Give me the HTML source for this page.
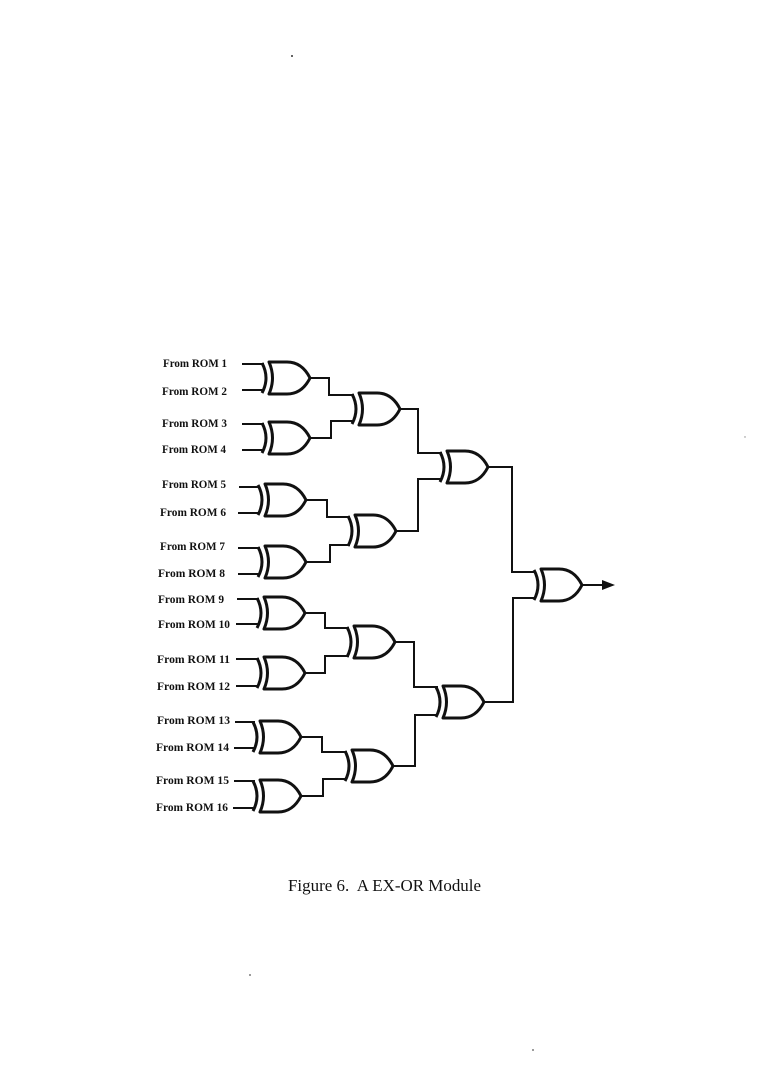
<!DOCTYPE html>
<html><head><meta charset="utf-8"><style>
html,body{margin:0;padding:0;background:#fff;}
svg{display:block;}
.lbl{font-family:"Liberation Serif",serif;font-weight:bold;font-size:11.5px;fill:#111;}
.cap{font-family:"Liberation Serif",serif;font-size:16.5px;fill:#111;}
</style></head><body>
<svg width="760" height="1089" viewBox="0 0 760 1089" xmlns="http://www.w3.org/2000/svg">
<defs>
<g id="x">
<path d="M0,1 Q8,16 0,31" fill="none" stroke="#111" stroke-width="3"/>
<path d="M7,0 Q14,16 7,32 L25,32 C37,32 44,24 48,16 C44,8 37,0 25,0 Z" fill="none" stroke="#111" stroke-width="3" stroke-linejoin="round"/>
</g>
</defs>
<circle cx="292" cy="56" r="1" fill="#333"/>
<circle cx="250" cy="975" r="0.9" fill="#555"/>
<circle cx="533" cy="1050" r="0.9" fill="#555"/>
<circle cx="745" cy="437" r="0.7" fill="#888"/>

<!-- labels -->
<text class="lbl" x="163" y="367" textLength="64" lengthAdjust="spacingAndGlyphs">From ROM 1</text>
<text class="lbl" x="162" y="395" textLength="65" lengthAdjust="spacingAndGlyphs">From ROM 2</text>
<text class="lbl" x="162" y="427" textLength="65" lengthAdjust="spacingAndGlyphs">From ROM 3</text>
<text class="lbl" x="162" y="453" textLength="64" lengthAdjust="spacingAndGlyphs">From ROM 4</text>
<text class="lbl" x="162" y="488" textLength="64" lengthAdjust="spacingAndGlyphs">From ROM 5</text>
<text class="lbl" x="160" y="516" textLength="66" lengthAdjust="spacingAndGlyphs">From ROM 6</text>
<text class="lbl" x="160" y="550" textLength="65" lengthAdjust="spacingAndGlyphs">From ROM 7</text>
<text class="lbl" x="158" y="577" textLength="67" lengthAdjust="spacingAndGlyphs">From ROM 8</text>
<text class="lbl" x="158" y="603" textLength="66" lengthAdjust="spacingAndGlyphs">From ROM 9</text>
<text class="lbl" x="158" y="628" textLength="72" lengthAdjust="spacingAndGlyphs">From ROM 10</text>
<text class="lbl" x="157" y="663" textLength="73" lengthAdjust="spacingAndGlyphs">From ROM 11</text>
<text class="lbl" x="157" y="690" textLength="73" lengthAdjust="spacingAndGlyphs">From ROM 12</text>
<text class="lbl" x="157" y="724" textLength="73" lengthAdjust="spacingAndGlyphs">From ROM 13</text>
<text class="lbl" x="156" y="751" textLength="73" lengthAdjust="spacingAndGlyphs">From ROM 14</text>
<text class="lbl" x="156" y="784" textLength="73" lengthAdjust="spacingAndGlyphs">From ROM 15</text>
<text class="lbl" x="156" y="811" textLength="72" lengthAdjust="spacingAndGlyphs">From ROM 16</text>

<!-- input wires -->
<g stroke="#111" stroke-width="2" fill="none">
<path d="M242,364 H264 M242,390 H264 M242,424 H264 M242,450 H264"/>
<path d="M239,487 H260 M238,513 H260 M238,548 H260 M238,574 H260"/>
<path d="M237,599 H259 M236,624 H259 M236,659 H259 M236,686 H259"/>
<path d="M235,722 H255 M234,748 H255 M234,781 H255 M233,808 H255"/>

<!-- level 1 -> level 2 -->
<path d="M310,378 H329 V395 H354"/>
<path d="M310,438 H331 V421 H354"/>
<path d="M306,500 H327 V517 H350"/>
<path d="M306,562 H330 V545 H350"/>
<path d="M305,613 H325 V628 H349"/>
<path d="M305,673 H325 V656 H349"/>
<path d="M301,737 H322 V752 H347"/>
<path d="M301,796 H323 V779 H347"/>

<!-- level 2 -> level 3 -->
<path d="M400,409 H418 V453 H442"/>
<path d="M396,531 H418 V479 H442"/>
<path d="M395,642 H414 V687 H438"/>
<path d="M393,766 H415 V715 H438"/>

<!-- level 3 -> final -->
<path d="M488,467 H512 V572 H536"/>
<path d="M484,702 H513 V598 H536"/>

<!-- output -->
<path d="M582,585 H604"/>
</g>
<path d="M602,580 L615,585 L602,590 Z" fill="#111"/>

<!-- gates -->
<use href="#x" transform="translate(262,362)"/>
<use href="#x" transform="translate(262,422)"/>
<use href="#x" transform="translate(258,484)"/>
<use href="#x" transform="translate(258,546)"/>
<use href="#x" transform="translate(257,597)"/>
<use href="#x" transform="translate(257,657)"/>
<use href="#x" transform="translate(253,721)"/>
<use href="#x" transform="translate(253,780)"/>

<use href="#x" transform="translate(352,393)"/>
<use href="#x" transform="translate(348,515)"/>
<use href="#x" transform="translate(347,626)"/>
<use href="#x" transform="translate(345,750)"/>

<use href="#x" transform="translate(440,451)"/>
<use href="#x" transform="translate(436,686)"/>

<use href="#x" transform="translate(534,569)"/>

<text class="cap" x="288" y="891" textLength="193" lengthAdjust="spacingAndGlyphs">Figure 6.&#160; A EX-OR Module</text>
</svg>
</body></html>
